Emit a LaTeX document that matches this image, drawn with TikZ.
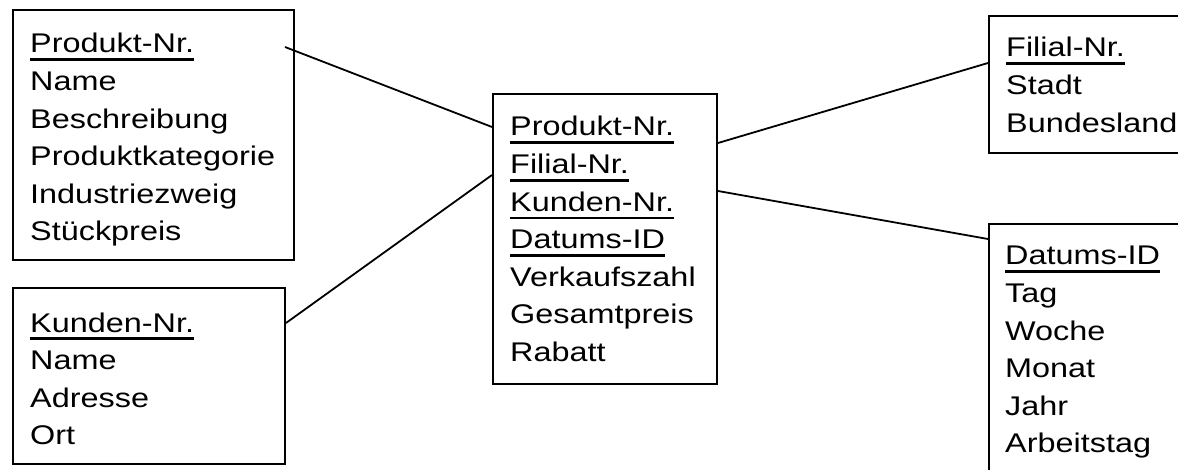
\documentclass[tikz,border=0pt]{standalone}
\usepackage{fontspec}
\setmainfont[FakeStretch=1.2]{Liberation Sans}
\usetikzlibrary{calc}
\newcommand{\pkey}[1]{\leavevmode\setbox0\hbox{#1}\rlap{\vrule height -5.5pt depth 8.3pt width \wd0}\box0}
\tikzset{
  entity/.style={draw, line width=2pt, inner sep=0pt, anchor=north west},
  attrs/.style={anchor=base west, inner sep=0pt, text width=300pt, align=left,
    font=\fontsize{27}{37.6}\selectfont},
  link/.style={line width=1.8pt}
}
\begin{document}
\begin{tikzpicture}[x=1pt,y=-1pt]
\useasboundingbox (0,0) rectangle (1178,470);
\clip (0,0) rectangle (1178,470);
\node[entity, minimum width=281pt, minimum height=250pt] (prod) at (12,9) {};
\node[entity, minimum width=272pt, minimum height=176pt] (kund) at (12,287) {};
\node[entity, minimum width=224pt, minimum height=290pt] (fact) at (492,93) {};
\node[entity, minimum width=240pt, minimum height=137pt] (fil) at (988,15) {};
\node[entity, minimum width=240pt, minimum height=290pt] (dat) at (988,223) {};

\node[attrs] (prodtxt) at (30,53) {\pkey{Produkt-Nr.}\\Name\\Beschreibung\\Produktkategorie\\Industriezweig\\Stückpreis};
\node[attrs] (kundtxt) at (30,332) {\pkey{Kunden-Nr.}\\Name\\Adresse\\Ort};
\node[attrs] (facttxt) at (510,136) {\pkey{Produkt-Nr.}\\\pkey{Filial-Nr.}\\\pkey{Kunden-Nr.}\\\pkey{Datums-ID}\\Verkaufszahl\\Gesamtpreis\\Rabatt};
\node[attrs] (filtxt) at (1006,57) {\pkey{Filial-Nr.}\\Stadt\\Bundesland};
\node[attrs] (dattxt) at (1005,265) {\pkey{Datums-ID}\\Tag\\Woche\\Monat\\Jahr\\Arbeitstag};

\draw[link] ($(prod.north east)+(-10,38)$) -- ($(fact.north west)+(0,34)$);
\draw[link] ($(kund.north east)+(0,36)$) -- ($(fact.north west)+(0,82)$);
\draw[link] ($(fact.north east)+(0,50)$) -- ($(fil.north west)+(0,48)$);
\draw[link] ($(fact.north east)+(0,98)$) -- ($(dat.north west)+(0,16)$);
\end{tikzpicture}
\end{document}
